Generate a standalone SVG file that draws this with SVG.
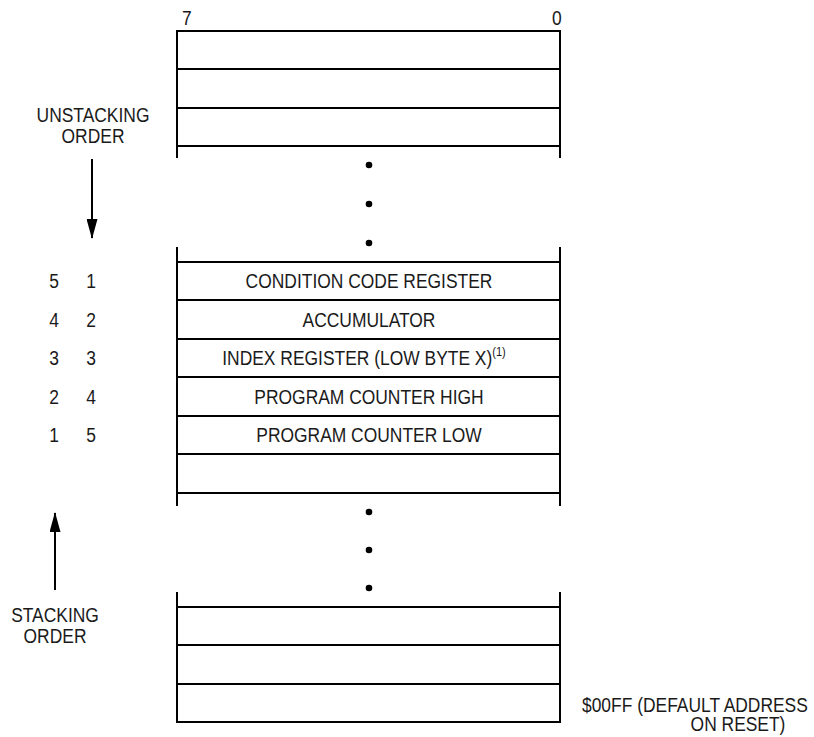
<svg xmlns="http://www.w3.org/2000/svg" width="814" height="737" viewBox="0 0 814 737">
<style>
text{font-family:"Liberation Sans",Arial,sans-serif;font-size:20.5px;fill:#1a1a1a}
.c{text-anchor:middle}
.ln{stroke:#000;stroke-width:2;fill:none}
</style>
<defs>
<marker id="ah" viewBox="0 0 20 11" refX="19" refY="5.5" markerWidth="20" markerHeight="11" markerUnits="userSpaceOnUse" orient="auto">
<path d="M0,0 L20,5.5 L0,11 Z" fill="#000"/>
</marker>
</defs>
<rect width="814" height="737" fill="#fff"/>
<g id="bit-labels">
<text transform="matrix(0.85,0,0,1,182,25)">7</text>
<text transform="matrix(0.85,0,0,1,552,25)">0</text>
</g>
<g id="top-block">
<path class="ln" d="M177,158 V31 H560 V158 M177,69 H560 M177,108 H560 M177,146 H560"/>
</g>
<g id="dots-1" fill="#000">
<circle cx="369" cy="165" r="3.3"/><circle cx="369" cy="204" r="3.3"/><circle cx="369" cy="243" r="3.3"/>
</g>
<g id="middle-block">
<path class="ln" d="M177,247 V506 M560,247 V506 M177,262 H560 M177,300 H560 M177,339 H560 M177,377 H560 M177,416 H560 M177,454 H560 M177,493 H560"/>
</g>
<g id="row-ccr"><text class="c" transform="matrix(0.85,0,0,1,369,288)">CONDITION CODE REGISTER</text></g>
<g id="row-acc"><text class="c" transform="matrix(0.85,0,0,1,369,327)">ACCUMULATOR</text></g>
<g id="row-x"><text class="c" transform="matrix(0.85,0,0,1,364,365)">INDEX REGISTER (LOW BYTE X)<tspan font-size="13" dy="-9">(1)</tspan></text></g>
<g id="row-pch"><text class="c" transform="matrix(0.85,0,0,1,369,404)">PROGRAM COUNTER HIGH</text></g>
<g id="row-pcl"><text class="c" transform="matrix(0.85,0,0,1,369,442)">PROGRAM COUNTER LOW</text></g>
<g id="dots-2" fill="#000">
<circle cx="369" cy="512" r="3.3"/><circle cx="369" cy="550" r="3.3"/><circle cx="369" cy="588" r="3.3"/>
</g>
<g id="bottom-block">
<path class="ln" d="M177,592 V722 H560 V592 M177,607 H560 M177,645 H560 M177,684 H560"/>
</g>
<g id="order-numbers">
<text class="c" transform="matrix(0.85,0,0,1,54,288)">5</text><text class="c" transform="matrix(0.85,0,0,1,91,288)">1</text>
<text class="c" transform="matrix(0.85,0,0,1,54,327)">4</text><text class="c" transform="matrix(0.85,0,0,1,91,327)">2</text>
<text class="c" transform="matrix(0.85,0,0,1,54,365)">3</text><text class="c" transform="matrix(0.85,0,0,1,91,365)">3</text>
<text class="c" transform="matrix(0.85,0,0,1,54,404)">2</text><text class="c" transform="matrix(0.85,0,0,1,91,404)">4</text>
<text class="c" transform="matrix(0.85,0,0,1,54,442)">1</text><text class="c" transform="matrix(0.85,0,0,1,91,442)">5</text>
</g>
<g id="unstacking-label">
<text class="c" transform="matrix(0.85,0,0,1,93,122)">UNSTACKING</text>
<text class="c" transform="matrix(0.85,0,0,1,93,143)">ORDER</text>
</g>
<g id="stacking-label">
<text class="c" transform="matrix(0.85,0,0,1,55,622)">STACKING</text>
<text class="c" transform="matrix(0.85,0,0,1,55,643)">ORDER</text>
</g>
<g id="connectors">
<line class="ln" x1="92" y1="159" x2="92" y2="238" marker-end="url(#ah)"/>
<line class="ln" x1="55" y1="590" x2="55" y2="513" marker-end="url(#ah)"/>
</g>
<g id="address-label">
<text transform="matrix(0.85,0,0,1,582,712)">$00FF (DEFAULT ADDRESS</text>
<text class="c" transform="matrix(0.85,0,0,1,738,731)">ON RESET)</text>
</g>
</svg>
